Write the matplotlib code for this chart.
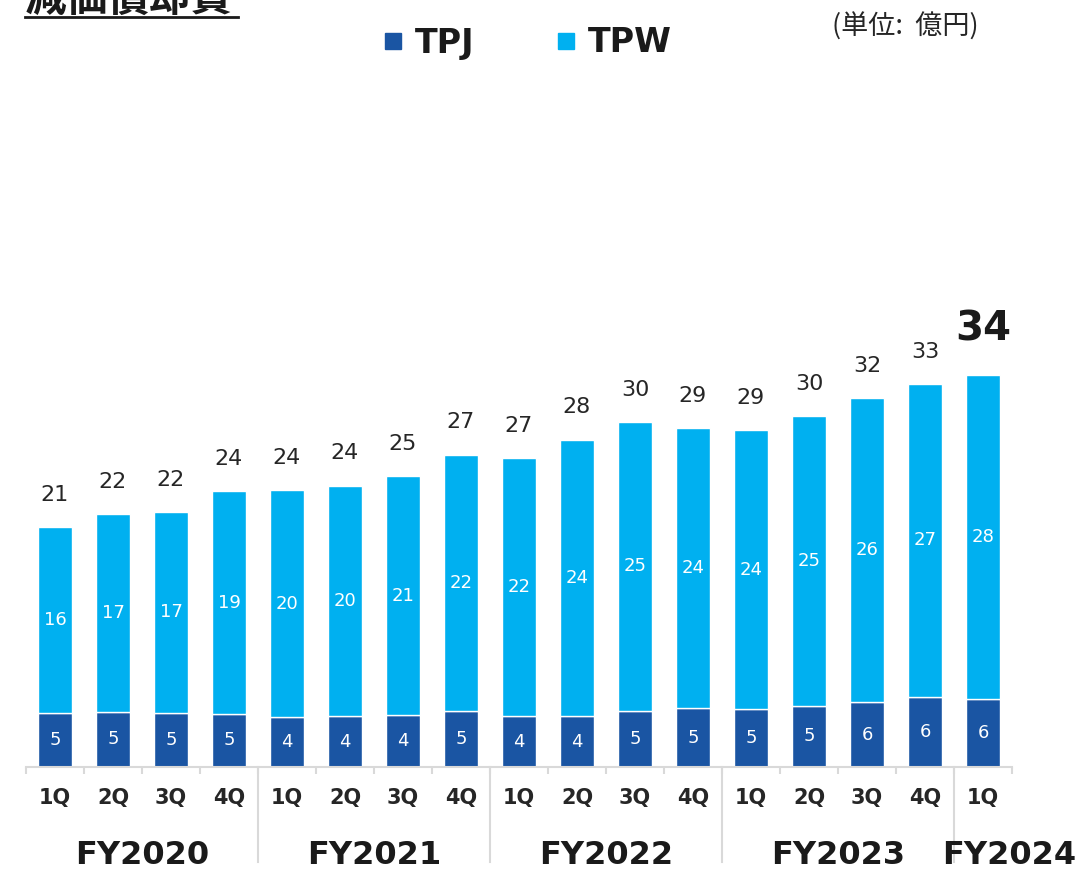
import matplotlib
matplotlib.use("Agg")
import matplotlib.pyplot as plt
from matplotlib.lines import Line2D
import matplotlib.transforms as mtransforms
import numpy as np

# data (unit: 億円)
quarters = ["1Q", "2Q", "3Q", "4Q", "1Q", "2Q", "3Q", "4Q", "1Q", "2Q", "3Q", "4Q",
            "1Q", "2Q", "3Q", "4Q", "1Q"]
years = ["FY2020", "FY2021", "FY2022", "FY2023", "FY2024"]
year_pos = [1.5, 5.5, 9.5, 13.5, 16.45]
tpj = [4.7, 4.8, 4.7, 4.6, 4.3, 4.4, 4.5, 4.9, 4.4, 4.4, 4.9, 5.1, 5.0, 5.3, 5.6, 6.1, 5.9]
tpw = [16.1, 17.1, 17.4, 19.3, 19.7, 20.0, 20.7, 22.2, 22.4, 24.0, 25.0, 24.3, 24.2, 25.1, 26.4, 27.1, 28.1]

c_tpj = "#1A55A3"
c_tpw = "#00B0F0"
txt = "#262626"
grid_c = "#D9D9D9"
cjk = ["Noto Sans CJK JP", "DejaVu Sans"]

W, H = 1079, 869
fig = plt.figure(figsize=(W / 100, H / 100), dpi=100)
ax = fig.add_axes([26 / W, 102 / H, 986 / W, 707 / H])

x = np.arange(len(tpj))
tot = np.array(tpj) + np.array(tpw)
ax.bar(x, tpj, width=0.6, color=c_tpj, edgecolor="white", linewidth=1)
ax.bar(x, tpw, bottom=tpj, width=0.6, color=c_tpw, edgecolor="white", linewidth=1)

ax.set_xlim(-0.5, len(x) - 0.5)
ax.set_ylim(0, 707 / 11.53)

for s in ["top", "right", "left"]:
    ax.spines[s].set_visible(False)
ax.spines["bottom"].set_color(grid_c)
ax.spines["bottom"].set_linewidth(1.5)
ax.set_yticks([])
ax.set_xticks([])
ax.set_xticks(np.arange(-0.5, len(x)), minor=True)
ax.tick_params(axis="x", which="minor", length=5, color=grid_c, width=1.5)

# labels inside bars
for i in x:
    ax.text(i, tpj[i] / 2, f"{tpj[i]:.0f}", ha="center", va="center",
            color="white", fontsize=13)
    ax.text(i, tpj[i] + tpw[i] / 2, f"{tpw[i]:.0f}", ha="center", va="center",
            color="white", fontsize=13)

# totals above bars
for i in x:
    if i == len(x) - 1:
        ax.annotate(f"{tot[i]:.0f}", (i, tot[i]), xytext=(0, 18), textcoords="offset points",
                    ha="center", va="bottom", fontsize=29, fontweight="bold", color="#1a1a1a")
    else:
        ax.annotate(f"{tot[i]:.0f}", (i, tot[i]), xytext=(0, 16), textcoords="offset points",
                    ha="center", va="bottom", fontsize=16, color=txt)

# quarter + fiscal year labels
trans = mtransforms.blended_transform_factory(ax.transData, ax.transAxes)
for i, q in enumerate(quarters):
    ax.text(i, -31 / 707, q, transform=trans, ha="center", va="center",
            fontsize=15, fontweight="bold", color=txt)
for p, y in zip(year_pos, years):
    ax.text(p, -88 / 707, y, transform=trans, ha="center", va="center",
            fontsize=23, fontweight="bold", color="#1a1a1a")
for b in [3.5, 7.5, 11.5, 15.5]:
    ax.plot([b, b], [0, -95 / 707], transform=trans, color=grid_c, lw=1.5, clip_on=False)

# legend
hs = [Line2D([], [], marker="s", ls="", ms=12, color=c_tpj),
      Line2D([], [], marker="s", ls="", ms=12, color=c_tpw)]
leg = fig.legend(hs, ["TPJ", "TPW"], loc="center", bbox_to_anchor=(526 / W, 1 - 43 / H),
                 ncol=2, frameon=False, handlelength=0.8, handletextpad=0.25,
                 columnspacing=2.35, prop={"size": 24, "weight": "bold"})
for t in leg.get_texts():
    t.set_color("#1a1a1a")

# title (cut off at the top) and unit note
fig.text(25 / W, 1 - 11 / H, "減価償却費", family=cjk, fontsize=30, fontweight="bold",
         va="baseline", ha="left", color="#1a1a1a")
fig.add_artist(Line2D([25 / W, 238 / W], [1 - 16.5 / H, 1 - 16.5 / H],
                      color="#1a1a1a", lw=2, transform=fig.transFigure))
fig.text(905 / W, 1 - 27 / H, "(単位:  億円)", family=cjk, fontsize=19.5,
         ha="center", va="center", color=txt)

fig.savefig("out.png", dpi=100)
